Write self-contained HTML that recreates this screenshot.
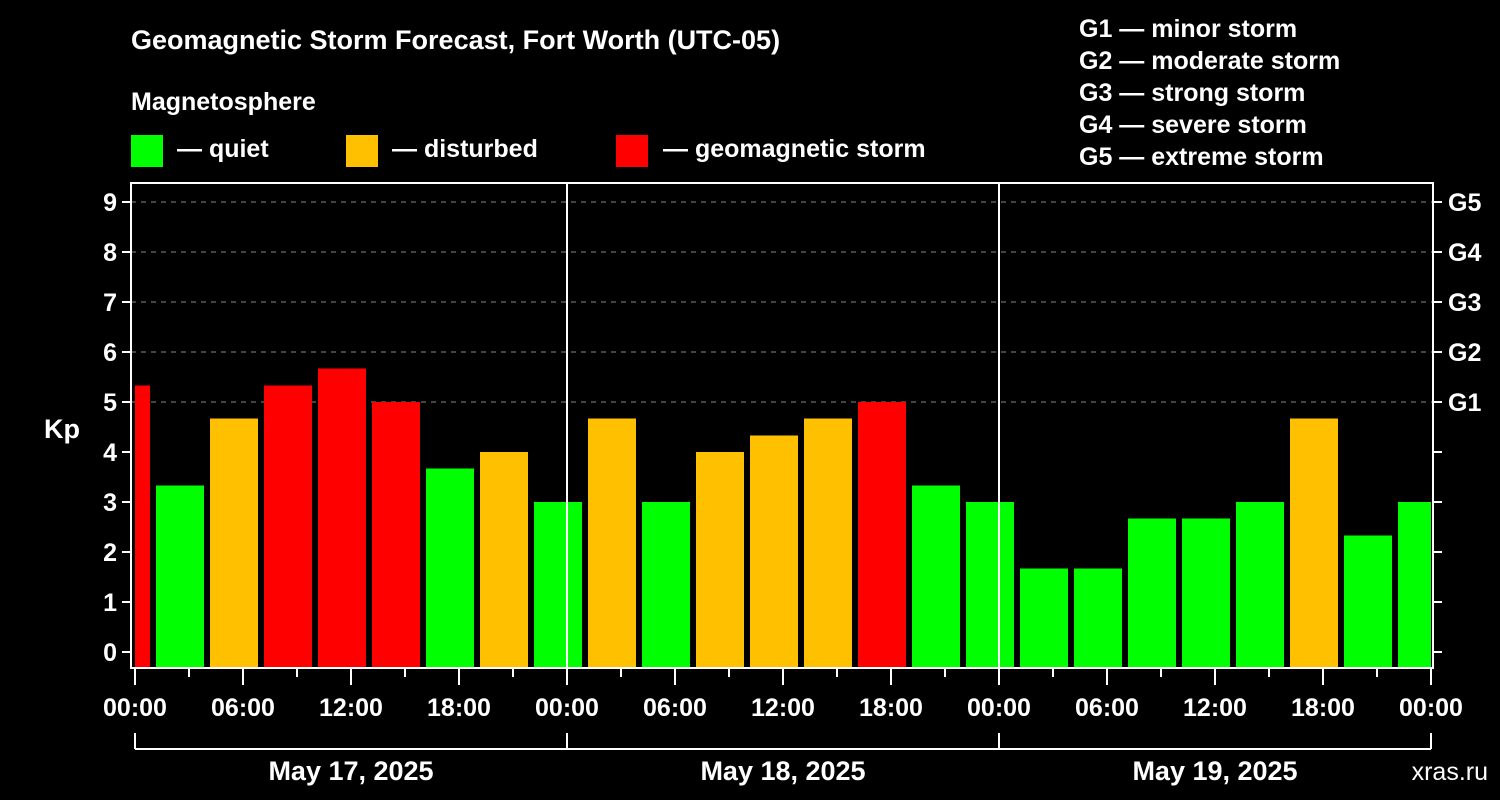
<!DOCTYPE html>
<html><head><meta charset="utf-8"><style>
html,body{margin:0;padding:0;background:#000;}
svg{display:block;font-family:"Liberation Sans",Arial,sans-serif;font-weight:bold;}
</style></head><body>
<svg id="chart" width="1500" height="800" viewBox="0 0 1500 800">
<rect x="0" y="0" width="1500" height="800" fill="#000"/>
<text x="131" y="49" fill="#fff" font-size="27">Geomagnetic Storm Forecast, Fort Worth (UTC-05)</text>
<text x="131" y="110" fill="#fff" font-size="25">Magnetosphere</text>
<g><rect x="131" y="135" width="32" height="32" fill="#00ff00"/><text x="177" y="157" fill="#fff" font-size="25">— quiet</text></g>
<g><rect x="346" y="135" width="32" height="32" fill="#ffc000"/><text x="392" y="157" fill="#fff" font-size="25">— disturbed</text></g>
<g><rect x="616" y="135" width="32" height="32" fill="#ff0000"/><text x="663" y="157" fill="#fff" font-size="25">— geomagnetic storm</text></g>
<g fill="#fff" font-size="25">
<text x="1079" y="37">G1 — minor storm</text>
<text x="1079" y="69">G2 — moderate storm</text>
<text x="1079" y="101">G3 — strong storm</text>
<text x="1079" y="133">G4 — severe storm</text>
<text x="1079" y="165">G5 — extreme storm</text>
</g>
<g id="grid"></g>
<g id="bars"></g>
<g id="axes"></g>
<text x="62" y="438" fill="#fff" font-size="27" text-anchor="middle">Kp</text>
<text x="1488" y="780" fill="#fff" font-size="25" text-anchor="end" font-weight="normal">xras.ru</text>
</svg>
<script>
const kpValues = [5.33,3.33,4.67,5.33,5.67,5.0,3.67,4.0,3.0, 4.67,3.0,4.0,4.33,4.67,5.0,3.33,3.0, 1.67,1.67,2.67,2.67,3.0,4.67,2.33,3.0];
const firstBarHour = -2; // hours from May 17 00:00 local
const barHours = 3;
const yTicks = [0,1,2,3,4,5,6,7,8,9];
const gLabels = ["G1","G2","G3","G4","G5"];
const xTickLabels = ["00:00","06:00","12:00","18:00","00:00","06:00","12:00","18:00","00:00","06:00","12:00","18:00","00:00"];
const dayLabels = ["May 17, 2025","May 18, 2025","May 19, 2025"];

const NS="http://www.w3.org/2000/svg";
const L=131,R=1433,T=183,B=668;
const x0=135, pxPerHour=18;
const xs=h=>x0+h*pxPerHour;
const ys=v=>652-v*50;
function mk(tag,attrs,parent){const e=document.createElementNS(NS,tag);for(const k in attrs)e.setAttribute(k,attrs[k]);parent.appendChild(e);return e;}
const grid=document.getElementById('grid'),bars=document.getElementById('bars'),axes=document.getElementById('axes');

gLabels.forEach((g,i)=>{const y=ys(5+i);
 const l=mk('line',{x1:L,x2:R,y1:y,y2:y,stroke:'#888','stroke-width':1,'stroke-dasharray':'5,5'},grid);
 
 
});

kpValues.forEach((v,i)=>{
 const h0=firstBarHour+i*barHours;
 let a=xs(h0)+3,b=xs(h0+barHours)-3;
 a=Math.max(a,L+4); b=Math.min(b,R-2);
 const c=v>=5?'#ff0000':(v>=4?'#ffc000':'#00ff00');
 const r=mk('rect',{x:a,y:ys(v),width:b-a,height:B-ys(v),fill:c},bars);
 
 
});

const frame=mk('rect',{x:L,y:T,width:R-L,height:B-T,fill:'none',stroke:'#fff','stroke-width':2},axes);


[1,2].forEach(d=>{const x=xs(d*24);
 const l=mk('line',{x1:x,x2:x,y1:T,y2:B,stroke:'#fff','stroke-width':2},axes);
 
 
});
yTicks.forEach(v=>{const y=ys(v);
 mk('line',{x1:L-9,x2:L,y1:y,y2:y,stroke:'#fff','stroke-width':2},axes);
 mk('line',{x1:R,x2:R+9,y1:y,y2:y,stroke:'#fff','stroke-width':2},axes);
 const t=mk('text',{x:L-14,y:y+9,fill:'#fff','font-size':25,'text-anchor':'end'},axes);
 t.textContent=v;
 
 
});
gLabels.forEach((g,i)=>{
 const t=mk('text',{x:R+15,y:ys(5+i)+9,fill:'#fff','font-size':25},axes);
 t.textContent=g;
 
 
});
for(let h=0;h<=72;h+=3){const x=xs(h);const major=h%6===0;
 mk('line',{x1:x,x2:x,y1:B,y2:B+(major?17:9),stroke:'#fff','stroke-width':2},axes);}
xTickLabels.forEach((s,i)=>{
 const t=mk('text',{x:xs(i*6),y:716,fill:'#fff','font-size':25,'text-anchor':'middle'},axes);
 t.textContent=s;
 
 
});
mk('line',{x1:xs(0),x2:xs(72),y1:749,y2:749,stroke:'#fff','stroke-width':2},axes);
for(let d=0;d<=3;d++){mk('line',{x1:xs(d*24),x2:xs(d*24),y1:733,y2:749,stroke:'#fff','stroke-width':2},axes);}
dayLabels.forEach((s,i)=>{
 const t=mk('text',{x:xs(i*24+12),y:780,fill:'#fff','font-size':27,'text-anchor':'middle'},axes);
 t.textContent=s;
 
 
});
</script>
</body></html>
